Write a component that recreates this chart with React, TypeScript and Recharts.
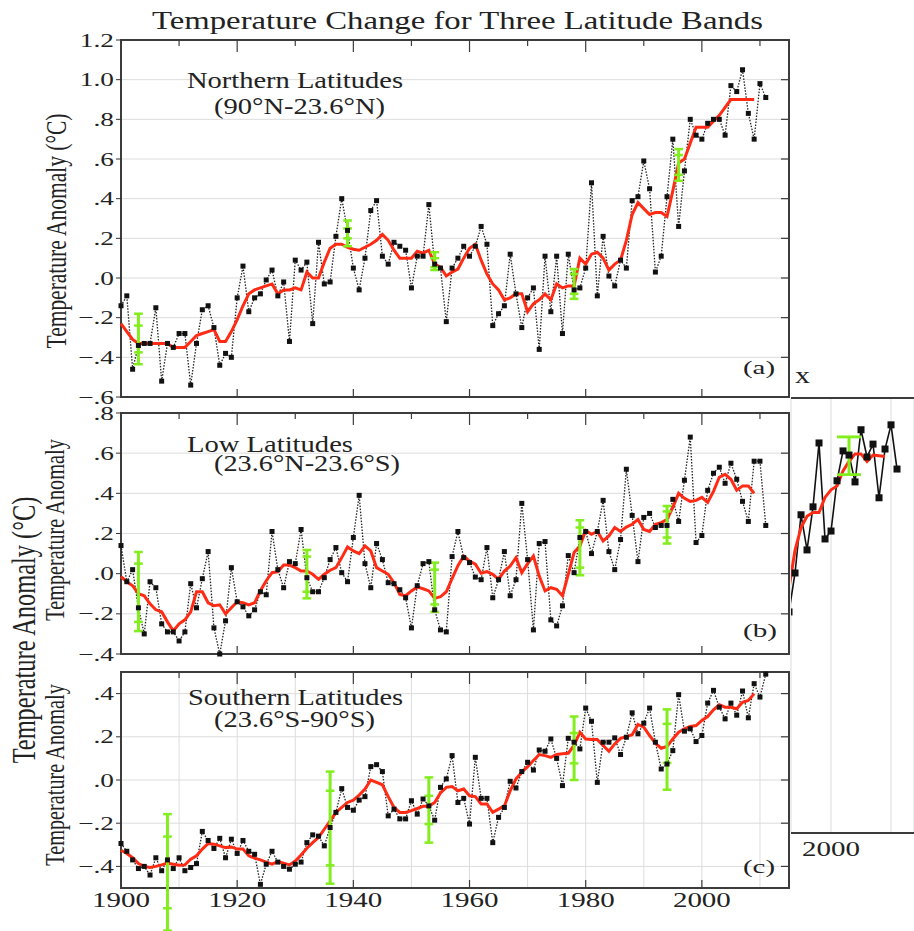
import React from "react";
import {
  ComposedChart, Line, XAxis, YAxis, CartesianGrid, ReferenceLine, ReferenceArea,
} from "recharts";

const SERIF = '"Liberation Serif", "Times New Roman", serif';
const RED = "#ff2b14";
const GREEN = "#82ee1e";
const FRAME = "#3c3c3c";
const GRID = "#dcdcdc";

const FIRST_YEAR = 1900;
const INSET_FIRST_YEAR = 1993;
const X_DOMAIN: [number, number] = [1900, 2015];
const PLOT_WIDTH = 668;

// annual anomalies, 1900..2011
const northAnnual = [
  -0.14, -0.09, -0.46, -0.34, -0.33, -0.33, -0.15, -0.52, -0.33, -0.35,
  -0.28, -0.28, -0.54, -0.33, -0.16, -0.14, -0.25, -0.44, -0.38, -0.40,
  -0.10, 0.06, -0.17, -0.10, -0.08, -0.01, 0.04, -0.09, -0.02, -0.32,
  0.09, 0.04, 0.08, -0.23, 0.18, -0.03, -0.02, 0.21, 0.40, 0.24,
  0.05, -0.06, 0.10, 0.34, 0.39, 0.11, 0.07, 0.18, 0.16, 0.14,
  -0.05, 0.11, 0.11, 0.37, 0.07, 0.05, -0.22, 0.05, 0.10, 0.16,
  0.11, 0.16, 0.26, 0.17, -0.24, -0.18, -0.14, 0.12, -0.08, -0.25,
  -0.10, -0.05, -0.36, 0.11, -0.17, 0.11, -0.28, 0.12, -0.06, -0.05,
  0.05, 0.48, -0.09, 0.21, 0.01, -0.04, 0.09, 0.05, 0.39, 0.41,
  0.59, 0.45, 0.03, 0.11, 0.41, 0.70, 0.26, 0.54, 0.80, 0.72,
  0.70, 0.78, 0.80, 0.80, 0.72, 0.97, 0.94, 1.05, 0.83, 0.70,
  0.98, 0.91,
];
// smoothed curve, 1900..2009
const northSmooth = [
  -0.23, -0.27, -0.31, -0.33, -0.33, -0.33, -0.33, -0.33, -0.33, -0.35,
  -0.35, -0.35, -0.32, -0.29, -0.28, -0.27, -0.26, -0.32, -0.32, -0.27,
  -0.21, -0.14, -0.08, -0.06, -0.05, -0.04, -0.03, -0.08, -0.06, -0.06,
  -0.05, -0.06, 0.03, 0.00, 0.00, 0.08, 0.15, 0.17, 0.17, 0.155,
  0.145, 0.14, 0.155, 0.17, 0.19, 0.22, 0.19, 0.14, 0.10, 0.10,
  0.10, 0.135, 0.125, 0.14, 0.07, 0.055, 0.01, 0.03, 0.045, 0.10,
  0.15, 0.17, 0.09, 0.02, -0.03, -0.06, -0.11, -0.10, -0.08, -0.08,
  -0.17, -0.13, -0.11, -0.08, -0.11, -0.03, -0.05, -0.04, -0.04, 0.10,
  0.07, 0.12, 0.13, 0.10, 0.04, 0.07, 0.09, 0.19, 0.32, 0.38,
  0.35, 0.32, 0.33, 0.33, 0.31, 0.44, 0.58, 0.60, 0.68, 0.76,
  0.76, 0.76, 0.79, 0.82, 0.86, 0.90, 0.90, 0.90, 0.90, 0.90,
];

const lowAnnual = [
  0.14, -0.04, 0.02, -0.17, -0.30, -0.04, -0.07, -0.25, -0.29, -0.29,
  -0.335, -0.29, -0.05, -0.17, -0.025, 0.11, -0.27, -0.40, -0.235, 0.03,
  -0.14, -0.165, -0.21, -0.18, -0.09, -0.105, 0.21, 0.02, -0.07, 0.06,
  0.05, 0.22, -0.02, -0.09, -0.09, -0.02, 0.07, 0.13, 0.005, -0.04,
  0.18, 0.39, 0.05, -0.07, 0.15, 0.07, -0.045, -0.05, -0.08, -0.12,
  -0.27, -0.06, 0.05, 0.06, -0.18, -0.28, -0.29, 0.085, 0.21, 0.08,
  0.055, -0.017, -0.03, 0.13, -0.12, -0.03, 0.11, -0.11, -0.03, 0.35,
  0.07, -0.28, 0.15, 0.16, -0.23, -0.26, -0.16, 0.09, 0.005, 0.18,
  0.21, 0.10, 0.21, 0.365, 0.11, 0.02, 0.17, 0.52, 0.29, 0.06,
  0.28, 0.30, 0.23, 0.24, 0.24, 0.37, 0.26, 0.465, 0.68, 0.155,
  0.19, 0.415, 0.50, 0.53, 0.45, 0.55, 0.47, 0.36, 0.26, 0.56,
  0.56, 0.24,
];
const lowSmooth = [
  -0.015, -0.04, -0.06, -0.10, -0.11, -0.15, -0.18, -0.19, -0.24, -0.285,
  -0.25, -0.23, -0.19, -0.09, -0.09, -0.145, -0.16, -0.155, -0.20, -0.17,
  -0.14, -0.145, -0.155, -0.145, -0.085, -0.035, 0.005, 0.01, 0.043, 0.043,
  0.03, 0.013, 0.013, -0.003, -0.028, -0.003, 0.017, 0.03, 0.08, 0.133,
  0.113, 0.10, 0.138, 0.113, 0.03, 0.013, -0.003, -0.045, -0.103, -0.11,
  -0.086, -0.066, -0.075, -0.086, -0.123, -0.115, -0.09, -0.025, 0.04, 0.088,
  0.063, 0.047, 0.002, 0.01, -0.003, -0.028, 0.013, 0.038, 0.08, 0.005,
  0.05, 0.088, -0.012, -0.086, -0.07, -0.078, -0.11, -0.003, 0.105, 0.138,
  0.215, 0.196, 0.21, 0.163, 0.188, 0.23, 0.21, 0.232, 0.246, 0.27,
  0.22, 0.21, 0.246, 0.254, 0.27, 0.33, 0.40, 0.375, 0.36, 0.365,
  0.38, 0.355, 0.41, 0.48, 0.495, 0.47, 0.415, 0.437, 0.437, 0.40,
];

const southAnnual = [
  -0.294, -0.33, -0.37, -0.41, -0.40, -0.44, -0.36, -0.42, -0.37, -0.41,
  -0.36, -0.42, -0.405, -0.387, -0.238, -0.28, -0.317, -0.27, -0.36, -0.274,
  -0.34, -0.28, -0.33, -0.344, -0.483, -0.39, -0.33, -0.38, -0.40, -0.413,
  -0.39, -0.38, -0.29, -0.254, -0.26, -0.305, -0.22, -0.15, -0.04, -0.127,
  -0.14, -0.093, -0.077, 0.062, 0.071, 0.039, -0.166, -0.135, -0.18, -0.18,
  -0.096, -0.158, -0.088, -0.12, -0.186, -0.034, 0.005, 0.113, -0.104, -0.085,
  -0.204, 0.105, -0.085, -0.085, -0.29, -0.173, -0.127, -0.006, -0.037, 0.039,
  0.082, 0.046, 0.139, 0.133, 0.19, 0.10, -0.026, 0.193, 0.175, 0.144,
  0.333, 0.272, -0.011, 0.175, 0.175, 0.195, 0.118, 0.198, 0.311, 0.214,
  0.263, 0.333, 0.175, 0.051, 0.074, 0.136, 0.395, 0.226, 0.237, 0.178,
  0.206, 0.356, 0.415, 0.337, 0.283, 0.356, 0.30, 0.412, 0.288, 0.446,
  0.384, 0.49,
];
const southSmooth = [
  -0.325, -0.34, -0.36, -0.387, -0.40, -0.405, -0.40, -0.393, -0.385, -0.39,
  -0.395, -0.393, -0.367, -0.351, -0.32, -0.294, -0.297, -0.305, -0.313, -0.31,
  -0.32, -0.32, -0.351, -0.362, -0.37, -0.38, -0.39, -0.378, -0.385, -0.393,
  -0.375, -0.347, -0.316, -0.29, -0.266, -0.228, -0.189, -0.15, -0.127, -0.104,
  -0.093, -0.07, -0.042, 0.0, -0.011, -0.022, -0.077, -0.127, -0.15, -0.15,
  -0.142, -0.132, -0.122, -0.122, -0.104, -0.06, -0.034, -0.03, -0.05, -0.042,
  -0.073, -0.077, -0.111, -0.111, -0.15, -0.135, -0.12, -0.05, 0.005, 0.036,
  0.062, 0.09, 0.118, 0.113, 0.105, 0.118, 0.121, 0.124, 0.16, 0.221,
  0.19, 0.187, 0.187, 0.16, 0.133, 0.167, 0.193, 0.201, 0.21, 0.257,
  0.245, 0.206, 0.17, 0.147, 0.155, 0.19, 0.221, 0.237, 0.248, 0.252,
  0.276, 0.294, 0.325, 0.348, 0.337, 0.337, 0.33, 0.36, 0.368, 0.40,
];

// uncertainty bars: outer range and inner caps
const northBars = [
  { year: 1903, lo: -0.435, loIn: -0.375, hiIn: -0.24, hi: -0.18 },
  { year: 1939, lo: 0.16, loIn: 0.20, hiIn: 0.25, hi: 0.29 },
  { year: 1954, lo: 0.04, loIn: 0.055, hiIn: 0.10, hi: 0.13 },
  { year: 1978, lo: -0.105, loIn: -0.08, hiIn: 0.02, hi: 0.045 },
  { year: 1996, lo: 0.49, loIn: 0.52, hiIn: 0.62, hi: 0.65 },
];
const lowBars = [
  { year: 1903, lo: -0.286, loIn: -0.24, hiIn: 0.05, hi: 0.108 },
  { year: 1932, lo: -0.123, loIn: -0.09, hiIn: 0.085, hi: 0.118 },
  { year: 1954, lo: -0.19, loIn: -0.153, hiIn: 0.02, hi: 0.055 },
  { year: 1979, lo: -0.008, loIn: 0.03, hiIn: 0.23, hi: 0.266 },
  { year: 1994, lo: 0.15, loIn: 0.18, hiIn: 0.31, hi: 0.337 },
];
const southBars = [
  { year: 1908, lo: -0.697, loIn: -0.594, hiIn: -0.262, hi: -0.158 },
  { year: 1936, lo: -0.48, loIn: -0.395, hiIn: -0.05, hi: 0.039 },
  { year: 1953, lo: -0.29, loIn: -0.204, hiIn: -0.073, hi: 0.012 },
  { year: 1978, lo: 0.0, loIn: 0.077, hiIn: 0.217, hi: 0.294 },
  { year: 1994, lo: -0.045, loIn: 0.079, hiIn: 0.26, hi: 0.327 },
];

const decadeTicks = [1900, 1910, 1920, 1930, 1940, 1950, 1960, 1970, 1980, 1990, 2000, 2010];
const labelTicks = [1900, 1920, 1940, 1960, 1980, 2000];
const northTicks = [-0.6, -0.4, -0.2, 0, 0.2, 0.4, 0.6, 0.8, 1.0, 1.2];
const lowTicks = [-0.4, -0.2, 0, 0.2, 0.4, 0.6, 0.8];
const southTicks = [-0.4, -0.2, 0, 0.2, 0.4];

// the cut-off neighbouring plot on the right edge, 1993..2011
const insetAnnual = [
  0.237, 0.340, 0.494, 0.401, 0.515, 0.684, 0.430, 0.451, 0.584, 0.663,
  0.652, 0.581, 0.719, 0.647, 0.681, 0.539, 0.668, 0.732, 0.615,
];
const insetSmooth = [
  0.30, 0.40, 0.46, 0.49, 0.50, 0.50, 0.54, 0.56, 0.57, 0.61,
  0.635, 0.655, 0.655, 0.635, 0.652, 0.65, 0.648,
];
const insetBars = [{ year: 2003, lo: 0.60, loIn: 0.60, hiIn: 0.70, hi: 0.70 }];
const insetXTicks = [2000, 2010];
const insetYTicks = [-0.3, -0.2, -0.1, 0, 0.1, 0.2, 0.3, 0.4, 0.5, 0.6, 0.7];

type Row = { year: number; annual: number; smooth: number | null };
type Bar = { year: number; lo: number; loIn: number; hiIn: number; hi: number };

function buildRows(first: number, annual: number[], smooth: number[]): Row[] {
  return annual.map((v, i) => ({
    year: first + i,
    annual: v,
    smooth: i < smooth.length ? smooth[i] : null,
  }));
}

function fmtValue(v: number) {
  const s = Math.abs(v).toFixed(1);
  const t = s.startsWith("0") ? s.slice(1) : s;
  return (v < -1e-9 ? "\u2212" : "") + t;
}

function ValueTick(props: any) {
  const { x, y, payload } = props;
  return (
    <g transform={`translate(${x},${y})`}>
      <text x={0} y={0} dy={6.5} textAnchor="end" transform="scale(1.4,1)"
        fontSize={19.5} fontFamily={SERIF} fill="#222">
        {fmtValue(payload.value)}
      </text>
    </g>
  );
}

function YearTick(props: any) {
  const { x, y, payload } = props;
  if (payload.value % 20 !== 0) return null;
  return (
    <g transform={`translate(${x},${y})`}>
      <text x={0} y={0} dy={19.5} textAnchor="middle" transform="scale(1.45,1)"
        fontSize={20} fontFamily={SERIF} fill="#222">
        {payload.value}
      </text>
    </g>
  );
}

function InsetTick(props: any) {
  const { x, y, payload } = props;
  if (payload.value !== 2000) return null;
  return (
    <g transform={`translate(${x},${y})`}>
      <text x={0} y={0} dy={23} textAnchor="middle" transform="scale(1.45,1)"
        fontSize={20} fontFamily={SERIF} fill="#222">
        {payload.value}
      </text>
    </g>
  );
}

function squareDot(size: number, tag: string) {
  return (p: any) => {
    if (p.cx == null || p.cy == null || p.value == null) return <g key={`${tag}${p.index}`} />;
    return (
      <rect key={`${tag}${p.index}`} x={p.cx - size / 2} y={p.cy - size / 2}
        width={size} height={size} fill="#111" />
    );
  };
}

function errorLines(bars: Bar[], half: number, tag: string) {
  return bars.flatMap((b, i) => {
    const caps = [b.lo, b.loIn, b.hiIn, b.hi];
    return [
      <ReferenceLine key={`${tag}v${i}`} ifOverflow="visible"
        segment={[{ x: b.year, y: b.lo }, { x: b.year, y: b.hi }]}
        stroke={GREEN} strokeWidth={3} />,
      ...caps.map((c, j) => (
        <ReferenceLine key={`${tag}c${i}_${j}`} ifOverflow="visible"
          segment={[{ x: b.year - half, y: c }, { x: b.year + half, y: c }]}
          stroke={GREEN} strokeWidth={2.5} />
      )),
    ];
  });
}

// short inward ticks on the top, bottom and right edges of the frame
function frameTicks(domain: [number, number], ticks: number[], plotHeight: number, tag: string) {
  const vPerPx = (domain[1] - domain[0]) / plotHeight;
  const yrPerPx = (X_DOMAIN[1] - X_DOMAIN[0]) / PLOT_WIDTH;
  const style = { stroke: FRAME, strokeWidth: 1.2, ifOverflow: "visible" as const };
  const top = decadeTicks.map((yr) => {
    const len = labelTicks.includes(yr) ? 12 : 6;
    return (
      <ReferenceLine key={`${tag}t${yr}`} {...style}
        segment={[{ x: yr, y: domain[1] }, { x: yr, y: domain[1] - len * vPerPx }]} />
    );
  });
  const bottom = labelTicks.map((yr) => (
    <ReferenceLine key={`${tag}b${yr}`} {...style}
      segment={[{ x: yr, y: domain[0] }, { x: yr, y: domain[0] + 8 * vPerPx }]} />
  ));
  const right = ticks.map((v) => (
    <ReferenceLine key={`${tag}r${v}`} {...style}
      segment={[{ x: X_DOMAIN[1] - 8 * yrPerPx, y: v }, { x: X_DOMAIN[1], y: v }]} />
  ));
  return [...top, ...bottom, ...right];
}

interface PanelProps {
  tag: string;
  top: number;
  plotHeight: number;
  rows: Row[];
  domain: [number, number];
  ticks: number[];
  bars: Bar[];
  showYears: boolean;
}

function Panel({ tag, top, plotHeight, rows, domain, ticks, bars, showYears }: PanelProps) {
  const xHeight = showYears ? 30 : 1;
  const bottom = showYears ? 20 : 12;
  return (
    <div style={{ position: "absolute", left: 0, top }}>
      <ComposedChart width={800} height={10 + plotHeight + xHeight + bottom} data={rows}
        margin={{ top: 10, right: 11, bottom, left: 0 }}>
        <CartesianGrid stroke={GRID} strokeWidth={1} />
        <XAxis dataKey="year" type="number" domain={X_DOMAIN} ticks={decadeTicks}
          interval={0} axisLine={false} tickLine={false} tickSize={0} tickMargin={0}
          height={xHeight} tick={showYears ? <YearTick /> : false} />
        <YAxis type="number" domain={domain} ticks={ticks} interval={0} width={121}
          axisLine={false} tickLine={{ stroke: "#333" }} tickSize={5} tickMargin={2}
          tick={<ValueTick />} />
        <ReferenceArea x1={X_DOMAIN[0]} x2={X_DOMAIN[1]} y1={domain[0]} y2={domain[1]}
          fill="none" stroke={FRAME} strokeWidth={2} ifOverflow="visible" />
        {frameTicks(domain, ticks, plotHeight, tag)}
        <Line dataKey="annual" type="linear" stroke="#222" strokeWidth={1.3}
          strokeDasharray="1.5 1.5" dot={squareDot(5, tag)} activeDot={false}
          isAnimationActive={false} />
        <Line dataKey="smooth" type="linear" stroke={RED} strokeWidth={3} dot={false}
          activeDot={false} isAnimationActive={false} />
        {errorLines(bars, 0.75, tag)}
      </ComposedChart>
    </div>
  );
}

function Inset() {
  const rows = buildRows(INSET_FIRST_YEAR, insetAnnual, insetSmooth);
  return (
    <div style={{ position: "absolute", left: 790, top: 388 }}>
      <ComposedChart width={124} height={475} data={rows}
        margin={{ top: 10, right: 0, bottom: 0, left: 0 }}>
        <CartesianGrid stroke={GRID} strokeWidth={1} />
        <XAxis dataKey="year" type="number" domain={[1993.33, 2013.83]} allowDataOverflow
          ticks={insetXTicks} interval={0} height={30}
          axisLine={{ stroke: FRAME, strokeWidth: 2 }} tickLine={false} tickSize={0}
          tickMargin={0} tick={<InsetTick />} />
        <YAxis type="number" domain={[-0.348, 0.803]} allowDataOverflow ticks={insetYTicks}
          interval={0} width={1} axisLine={false} tickLine={false} tick={false} />
        <ReferenceLine y={0.803} stroke={FRAME} strokeWidth={2} />
        <Line dataKey="annual" type="linear" stroke="#111" strokeWidth={1.6}
          dot={squareDot(7, "in")} activeDot={false} isAnimationActive={false} />
        <Line dataKey="smooth" type="linear" stroke={RED} strokeWidth={3} dot={false}
          activeDot={false} isAnimationActive={false} />
        {errorLines(insetBars, 2, "in")}
      </ComposedChart>
    </div>
  );
}

function Txt({ x, y, w, size, children }: { x: number; y: number; w: number; size: number; children: React.ReactNode }) {
  return (
    <text x={x} y={y} fontSize={size} textLength={w} lengthAdjust="spacingAndGlyphs"
      fontFamily={SERIF} fill="#222">
      {children}
    </text>
  );
}

function VTxt({ x, y, size, children }: { x: number; y: number; size: number; children: React.ReactNode }) {
  return (
    <text x={0} y={0} textAnchor="middle" fontSize={size} fontFamily={SERIF} fill="#222"
      transform={`translate(${x},${y}) scale(1.37,1) rotate(-90)`}>
      {children}
    </text>
  );
}

export default function App() {
  const northRows = buildRows(FIRST_YEAR, northAnnual, northSmooth);
  const lowRows = buildRows(FIRST_YEAR, lowAnnual, lowSmooth);
  const southRows = buildRows(FIRST_YEAR, southAnnual, southSmooth);

  return (
    <div style={{ position: "absolute", left: 0, top: 0, width: 914, height: 931, overflow: "hidden", background: "#fff" }}>
      <Inset />
      <Panel tag="n" top={30} plotHeight={357} rows={northRows} domain={[-0.6, 1.2]}
        ticks={northTicks} bars={northBars} showYears={false} />
      <Panel tag="l" top={403} plotHeight={241} rows={lowRows} domain={[-0.4, 0.8]}
        ticks={lowTicks} bars={lowBars} showYears={false} />
      <Panel tag="s" top={662} plotHeight={216} rows={southRows} domain={[-0.5, 0.5]}
        ticks={southTicks} bars={southBars} showYears={true} />

      <svg width={914} height={931} style={{ position: "absolute", left: 0, top: 0, pointerEvents: "none" }}>
        <Txt x={152} y={29} w={611} size={25}>Temperature Change for Three Latitude Bands</Txt>

        <Txt x={187} y={88} w={216} size={24}>Northern Latitudes</Txt>
        <Txt x={214} y={113.5} w={171} size={24}>(90°N-23.6°N)</Txt>
        <Txt x={187} y={452} w={166} size={24}>Low Latitudes</Txt>
        <Txt x={214} y={470.5} w={186} size={24}>(23.6°N-23.6°S)</Txt>
        <Txt x={188} y={705} w={215} size={24}>Southern Latitudes</Txt>
        <Txt x={214} y={727} w={161} size={24}>(23.6°S-90°S)</Txt>

        <Txt x={743} y={374} w={32} size={18}>(a)</Txt>
        <Txt x={743} y={637} w={34} size={18}>(b)</Txt>
        <Txt x={743} y={873} w={32} size={18}>(c)</Txt>

        <Txt x={795} y={383} w={15} size={24}>x</Txt>

        <VTxt x={66} y={231} size={21.5}>Temperature Anomaly (°C)</VTxt>
        <VTxt x={64} y={530} size={20.3}>Temperature Anomaly</VTxt>
        <VTxt x={64} y={775} size={20.3}>Temperature Anomaly</VTxt>
        <VTxt x={35} y={630} size={24.4}>Temperature Anomaly (°C)</VTxt>
      </svg>
    </div>
  );
}
